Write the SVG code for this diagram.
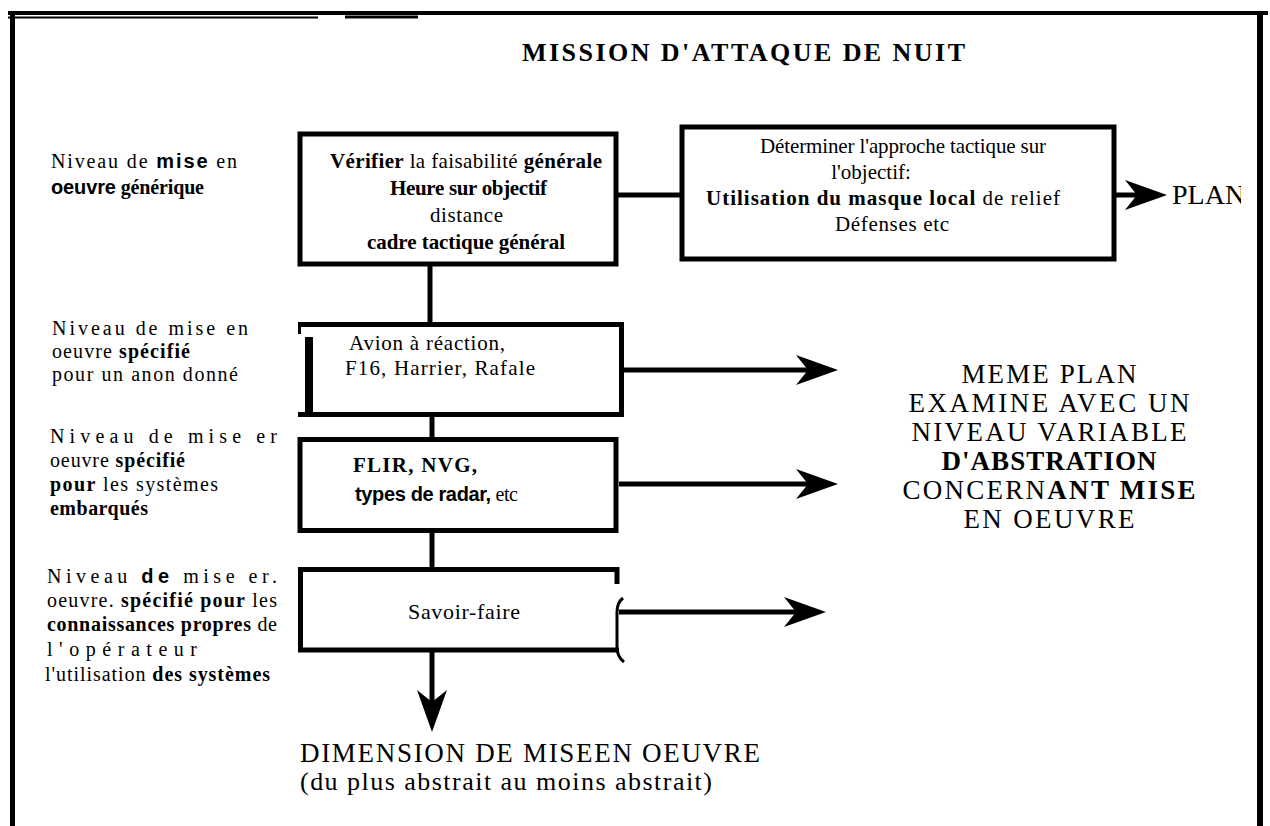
<svg xmlns="http://www.w3.org/2000/svg" xmlns:xlink="http://www.w3.org/1999/xlink" width="1270" height="826" viewBox="0 0 1270 826">
<style>
  text { font-family: "Liberation Serif", "Times New Roman", "DejaVu Serif", serif; fill: #000; }
  .s { font-family: "Liberation Sans", Arial, sans-serif; font-weight: bold; }
  .b { font-weight: bold; }
  .lbl { font-size: 20px; }
  .box { font-size: 21px; }
  .big { font-size: 27px; }
  .frame { stroke: #000; fill: none; }
  .node { fill: #fff; stroke: #000; stroke-width: 5; }
  .edge { stroke: #000; stroke-width: 5; fill: none; }
  .thin { stroke: #000; stroke-width: 3; fill: none; }
</style>
<defs>
  <path id="ah" d="M0 0 L-42 -15 L-30 0 L-42 15 Z" fill="#000"/>
  <clipPath id="clipPlan"><rect x="1160" y="170" width="81" height="50"/></clipPath>
</defs>
<rect x="0" y="0" width="1270" height="826" fill="#fff"/>

<g id="frame" class="frame">
  <line x1="8" y1="13" x2="1268" y2="13" stroke-width="4"/>
  <line x1="8" y1="17.5" x2="318" y2="17.5" stroke-width="2"/>
  <line x1="345" y1="17" x2="418" y2="17" stroke-width="3"/>
  <line x1="12.5" y1="15" x2="12.5" y2="826" stroke-width="5"/>
  <line x1="1260" y1="11" x2="1260" y2="826" stroke-width="6"/>
</g>

<g id="title" font-family="Liberation Serif, Times New Roman, serif">
  <text class="b" x="522" y="61" font-size="26" textLength="443">MISSION D'ATTAQUE DE NUIT</text>
</g>

<g id="connectors">
  <line class="edge" x1="618" y1="195" x2="680" y2="195"/>
  <line class="edge" x1="1116" y1="195" x2="1137" y2="195"/>
  <use xlink:href="#ah" href="#ah" transform="translate(1167,195)"/>
  <line class="edge" x1="430" y1="266" x2="430" y2="323"/>
  <line class="edge" x1="432" y1="414" x2="432" y2="438"/>
  <line class="edge" x1="432" y1="531" x2="432" y2="568"/>
  <line class="edge" x1="622" y1="370" x2="808" y2="370"/>
  <use xlink:href="#ah" href="#ah" transform="translate(838,370)"/>
  <line class="edge" x1="619" y1="484" x2="808" y2="484"/>
  <use xlink:href="#ah" href="#ah" transform="translate(838,484)"/>
  <line class="edge" x1="619" y1="612" x2="796" y2="612"/>
  <use xlink:href="#ah" href="#ah" transform="translate(826,612)"/>
  <line class="edge" x1="432" y1="652" x2="432" y2="702"/>
  <use xlink:href="#ah" href="#ah" transform="translate(432,732) rotate(90)"/>
</g>

<g id="node-verifier" font-family="Liberation Serif, Times New Roman, serif">
  <rect class="node" x="300" y="134" width="316" height="130"/>
  <text class="box" x="330" y="168" textLength="272"><tspan class="b">Vérifier</tspan> la faisabilité <tspan class="b">générale</tspan></text>
  <text class="box b" x="390" y="195" textLength="157">Heure sur objectif</text>
  <text class="box" x="430" y="222" textLength="73">distance</text>
  <text class="box b" x="367" y="249" textLength="198">cadre tactique général</text>
</g>

<g id="node-approche" font-family="Liberation Serif, Times New Roman, serif">
  <rect class="node" x="682" y="127" width="432" height="132"/>
  <text class="box" x="760" y="153" textLength="286">Déterminer l'approche tactique sur</text>
  <text class="box" x="871" y="179" text-anchor="middle">l'objectif:</text>
  <text class="box" x="706" y="205" textLength="354"><tspan class="b">Utilisation du masque local</tspan> de relief</text>
  <text class="box" x="835" y="231" textLength="114">Défenses etc</text>
</g>

<g id="plan" font-family="Liberation Serif, Times New Roman, serif">
  <text x="1172" y="204" font-size="28" clip-path="url(#clipPlan)">PLAN</text>
</g>

<g id="node-avion" font-family="Liberation Serif, Times New Roman, serif">
  <rect x="300" y="324" width="322" height="91" fill="#fff"/>
  <line class="edge" x1="298" y1="324.5" x2="624" y2="324.5"/>
  <line class="edge" x1="621.5" y1="322" x2="621.5" y2="417"/>
  <line class="edge" x1="298" y1="414.5" x2="624" y2="414.5"/>
  <line class="thin" x1="299.5" y1="322" x2="299.5" y2="334"/>
  <line stroke="#000" stroke-width="8" x1="309" y1="337" x2="309" y2="417"/>
  <text class="box" x="349" y="350" textLength="156">Avion à réaction,</text>
  <text class="box" x="345" y="375" textLength="190">F16, Harrier, Rafale</text>
</g>

<g id="node-flir" font-family="Liberation Serif, Times New Roman, serif">
  <rect class="node" x="300" y="439.5" width="316" height="91"/>
  <text class="box b" x="353" y="472" font-size="20" textLength="124">FLIR, NVG,</text>
  <text x="355" y="501" font-size="20" textLength="163"><tspan class="s">types de radar,</tspan> etc</text>
</g>

<g id="node-savoir" font-family="Liberation Serif, Times New Roman, serif">
  <rect x="300" y="569" width="317" height="82" fill="#fff"/>
  <path class="edge" d="M617 584 V569.5 H300.5 V650 H619"/>
  <path class="thin" d="M623 598 C618 602 617 606 617 612 L617 647 C617 655 620 659 624 662"/>
  <text x="408" y="619" font-size="22" textLength="112">Savoir-faire</text>
</g>

<g id="labels-left" font-family="Liberation Serif, Times New Roman, serif">
  <text class="lbl" x="51" y="168" textLength="186">Niveau de <tspan class="s">mise</tspan> en</text>
  <text class="lbl" x="51" y="194" textLength="153"><tspan class="s">oeuvre</tspan> <tspan class="b">générique</tspan></text>

  <text class="lbl" x="52" y="335" textLength="196">Niveau de mise en</text>
  <text class="lbl" x="52" y="358" textLength="138">oeuvre <tspan class="b">spécifié</tspan></text>
  <text class="lbl" x="52" y="381" textLength="186">pour un anon donné</text>

  <text class="lbl" x="50" y="443" textLength="227">Niveau de mise er</text>
  <text class="lbl" x="50" y="467" textLength="135">oeuvre <tspan class="b">spécifié</tspan></text>
  <text class="lbl" x="50" y="491" textLength="168"><tspan class="b">pour</tspan> les systèmes</text>
  <text class="lbl b" x="50" y="515" textLength="98">embarqués</text>

  <text class="lbl" x="47" y="583" textLength="230">Niveau <tspan class="s">de</tspan> mise er.</text>
  <text class="lbl" x="47" y="607" textLength="230">oeuvre. <tspan class="b">spécifié pour</tspan> les</text>
  <text class="lbl" x="47" y="631" textLength="230"><tspan class="b">connaissances propres</tspan> de</text>
  <text class="lbl" x="47" y="656" textLength="150">l'opérateur</text>
  <text class="lbl" x="45" y="681" textLength="225">l'utilisation <tspan class="b">des systèmes</tspan></text>
</g>

<g id="label-meme" font-family="Liberation Serif, Times New Roman, serif">
  <text class="big" x="1049" y="383" text-anchor="middle" textLength="175">MEME PLAN</text>
  <text class="big" x="1049" y="412" text-anchor="middle" textLength="281">EXAMINE AVEC UN</text>
  <text class="big" x="1049" y="441" text-anchor="middle" textLength="275">NIVEAU VARIABLE</text>
  <text class="big b" x="1049" y="470" text-anchor="middle" textLength="215">D'ABSTRATION</text>
  <text class="big" x="1049" y="499" text-anchor="middle" textLength="293">CONCERN<tspan class="b">ANT  MISE</tspan></text>
  <text class="big" x="1049" y="528" text-anchor="middle" textLength="171">EN OEUVRE</text>
</g>

<g id="label-dimension" font-family="Liberation Serif, Times New Roman, serif">
  <text x="300" y="762" font-size="27" textLength="460">DIMENSION DE MISEEN OEUVRE</text>
  <text x="300" y="790" font-size="26" textLength="412">(du plus abstrait au moins abstrait)</text>
</g>
</svg>
